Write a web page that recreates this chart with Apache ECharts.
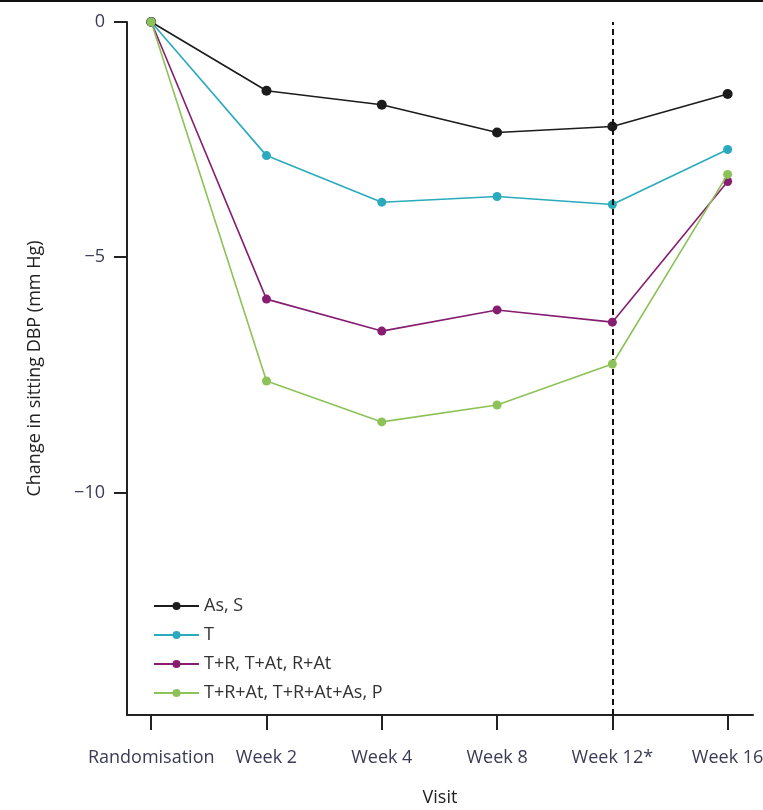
<!DOCTYPE html>
<html>
<head>
<meta charset="utf-8">
<script src="https://cdn.jsdelivr.net/npm/echarts@6/dist/echarts.min.js"></script>
<style>html,body{margin:0;padding:0;background:#fff}#c{width:763px;height:810px}</style>
</head>
<body>
<div id="c"></div>
<script>
const categories = ['Randomisation', 'Week 2', 'Week 4', 'Week 8', 'Week 12*', 'Week 16'];
const seriesNames = ['As, S', 'T', 'T+R, T+At, R+At', 'T+R+At, T+R+At+As, P'];
const asS = [0, -1.46, -1.76, -2.35, -2.22, -1.53];
const tOnly = [0, -2.84, -3.83, -3.71, -3.88, -2.71];
const dual = [0, -5.89, -6.57, -6.12, -6.38, -3.39];
const triple = [0, -7.63, -8.5, -8.14, -7.27, -3.24];
const yTicks = [0, -5, -10];
const dashedVisit = 4;

const colors = ['#1c1c1c', '#2aaabd', '#861d70', '#8cc257'];
const allData = [asS, tOnly, dual, triple];
const font = '"Open Sans", Lato, sans-serif';

const chart = echarts.init(document.getElementById('c'));
const series = allData.map((vals, i) => ({
  name: seriesNames[i],
  type: 'line',
  data: vals.map((v, j) => [j, v]),
  symbol: 'circle',
  symbolSize: i === 0 ? 10 : 9,
  lineStyle: { width: 1.6, color: colors[i] },
  itemStyle: { color: colors[i] },
  z: 3 + i,
  markLine: i === 0 ? {
    silent: true, symbol: 'none', label: { show: false },
    lineStyle: { color: '#111', type: [6, 4], width: 2 },
    data: [{ xAxis: dashedVisit }]
  } : undefined
}));

chart.setOption({
  animation: false,
  backgroundColor: '#fff',
  textStyle: { fontFamily: font },
  grid: { left: 127, top: 22, right: 10, bottom: 95, containLabel: false, outerBoundsMode: 'none' },
  xAxis: {
    type: 'value', min: -0.21, max: 5.22,
    name: 'Visit', nameLocation: 'middle', nameGap: 74,
    nameTextStyle: { fontFamily: font, fontSize: 18, color: '#222' },
    splitLine: { show: false },
    axisLine: { show: true, onZero: false, lineStyle: { color: '#222', width: 2 } },
    axisTick: { show: true, length: 15, customValues: [0, 1, 2, 3, 4, 5], lineStyle: { color: '#222', width: 2 } },
    axisLabel: {
      customValues: [0, 1, 2, 3, 4, 5], margin: 34,
      fontFamily: font, fontSize: 18, color: '#3a3a55',
      formatter: v => categories[Math.round(v)]
    }
  },
  yAxis: {
    type: 'value', min: -14.73, max: 0,
    name: 'Change in sitting DBP (mm Hg)', nameLocation: 'middle', nameGap: 83,
    nameTextStyle: { fontFamily: font, fontSize: 18, color: '#222' },
    splitLine: { show: false },
    axisLine: { show: true, onZero: false, lineStyle: { color: '#222', width: 2 } },
    axisTick: { show: true, length: 13, customValues: yTicks, lineStyle: { color: '#222', width: 2 } },
    axisLabel: {
      customValues: yTicks, margin: 22,
      fontFamily: font, fontSize: 18, color: '#3a3a55',
      formatter: v => (v < 0 ? '\u2212' + Math.abs(v) : String(v))
    }
  },
  legend: {
    orient: 'vertical', left: 148, top: 592,
    itemWidth: 45, itemHeight: 10, itemGap: 11,
    textStyle: { fontFamily: font, fontSize: 18, color: '#333' },
    data: seriesNames
  },
  graphic: [{
    type: 'rect', shape: { x: 0, y: 0, width: 763, height: 2 },
    style: { fill: '#111' }
  }],
  series: series
});
</script>
</body>
</html>
